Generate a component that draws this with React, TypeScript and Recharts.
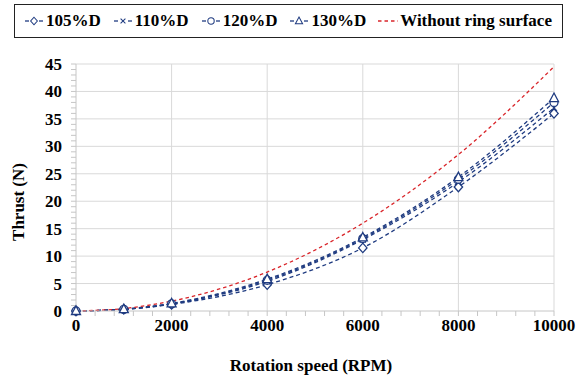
import React from 'react';
import { LineChart, Line, XAxis, YAxis, CartesianGrid } from 'recharts';

const speeds = [0, 1000, 2000, 4000, 6000, 8000, 10000];
const thrust105 = [0, 0.3, 1.2, 4.8, 11.5, 22.6, 36.0];
const thrust110 = [0, 0.3, 1.3, 5.4, 13.0, 23.5, 37.0];
const thrust120 = [0, 0.3, 1.3, 5.6, 13.2, 24.0, 38.0];
const thrust130 = [0, 0.35, 1.4, 5.8, 13.4, 24.4, 38.8];
const thrustNoRing = [0, 0.45, 1.8, 7.1, 16.0, 28.5, 44.5];

const xMajorTicks = [0, 2000, 4000, 6000, 8000, 10000];
const yMajorTicks = [0, 5, 10, 15, 20, 25, 30, 35, 40, 45];
// minor tick marks: every 400 rpm on x, every 1 N on y
const xMinorTicks = Array.from({ length: 26 }, (_, i) => i * 400);
const yMinorTicks = Array.from({ length: 46 }, (_, i) => i);

const data = speeds.map((rpm, i) => ({
  rpm,
  d105: thrust105[i],
  d110: thrust110[i],
  d120: thrust120[i],
  d130: thrust130[i],
  none: thrustNoRing[i],
}));

const NAVY = '#1F3B80';
const RED = '#D9252A';
const AXIS = '#c6c6c6';
const FONT = 'Liberation Serif';

type Shape = 'diamond' | 'cross' | 'circle' | 'triangle';

function Marker({ cx, cy, shape }: { cx: number; cy: number; shape: Shape }) {
  const s = 4.2;
  if (shape === 'diamond')
    return <path d={`M${cx},${cy - s - 0.5} L${cx + s},${cy} L${cx},${cy + s + 0.5} L${cx - s},${cy} Z`} fill="#fff" stroke={NAVY} strokeWidth={1.3} />;
  if (shape === 'cross')
    return <path d={`M${cx - 3},${cy - 3} L${cx + 3},${cy + 3} M${cx - 3},${cy + 3} L${cx + 3},${cy - 3}`} stroke={NAVY} strokeWidth={1.3} />;
  if (shape === 'circle') return <circle cx={cx} cy={cy} r={4} fill="#fff" stroke={NAVY} strokeWidth={1.3} />;
  return <path d={`M${cx},${cy - 5} L${cx + 4.5},${cy + 3.5} L${cx - 4.5},${cy + 3.5} Z`} fill="#fff" stroke={NAVY} strokeWidth={1.3} />;
}

const dotFor = (shape: Shape) => (p: any) => <Marker key={`${shape}-${p.index}`} cx={p.cx} cy={p.cy} shape={shape} />;

function XTick({ x, y, payload }: any) {
  if (payload.value % 2000 !== 0) return <g />;
  return (
    <text x={x} y={y} dy={13} textAnchor="middle" style={{ fontFamily: FONT }} fontWeight="bold" fontSize={17} fill="#000">
      {payload.value}
    </text>
  );
}

function YTick({ x, y, payload }: any) {
  if (payload.value % 5 !== 0) return <g />;
  return (
    <text x={x} y={y} dy={6} textAnchor="end" style={{ fontFamily: FONT }} fontWeight="bold" fontSize={17} fill="#000">
      {payload.value}
    </text>
  );
}

function LegendIcon({ shape, color }: { shape?: Shape; color: string }) {
  return (
    <svg width={20} height={12} style={{ display: 'block' }}>
      {shape ? (
        <>
          <line x1={1} y1={6} x2={5} y2={6} stroke={color} strokeWidth={1.3} />
          <line x1={15} y1={6} x2={19} y2={6} stroke={color} strokeWidth={1.3} />
          <g transform="translate(10,6) scale(0.8) translate(-10,-6)">
            <Marker cx={10} cy={6} shape={shape} />
          </g>
        </>
      ) : (
        <line x1={0} y1={6} x2={20} y2={6} stroke={color} strokeWidth={1.3} strokeDasharray="3.5 3" />
      )}
    </svg>
  );
}

const legendItems: { label: string; shape?: Shape; color: string }[] = [
  { label: '105%D', shape: 'diamond', color: NAVY },
  { label: '110%D', shape: 'cross', color: NAVY },
  { label: '120%D', shape: 'circle', color: NAVY },
  { label: '130%D', shape: 'triangle', color: NAVY },
  { label: 'Without ring surface', color: RED },
];

export default function App() {
  return (
    <div style={{ position: 'absolute', left: 0, top: 0, width: 576, height: 379, background: '#fff', fontFamily: FONT }}>
      <div
        style={{
          position: 'absolute',
          left: 14,
          top: 4,
          width: 549,
          height: 34,
          border: '1.5px solid #222',
          boxSizing: 'border-box',
          display: 'flex',
          alignItems: 'center',
          paddingLeft: 9,
          gap: 12,
          fontFamily: FONT,
          fontWeight: 'bold',
          fontSize: 17,
          color: '#000',
          whiteSpace: 'nowrap',
        }}
      >
        {legendItems.map((it) => (
          <div key={it.label} style={{ display: 'flex', alignItems: 'center', gap: 2 }}>
            <LegendIcon shape={it.shape} color={it.color} />
            <span>{it.label}</span>
          </div>
        ))}
      </div>
      <LineChart width={576} height={379} data={data} margin={{ top: 64, right: 22, left: 0, bottom: 0 }}>
        <CartesianGrid stroke="#d9d9d9" verticalValues={xMajorTicks.slice(1)} horizontalValues={yMajorTicks.slice(1)} />
        <XAxis
          dataKey="rpm"
          type="number"
          domain={[0, 10000]}
          ticks={xMinorTicks}
          interval={0}
          height={68}
          tickSize={5}
          tickMargin={2}
          stroke={AXIS}
          tick={<XTick />}
          label={{
            content: ({ viewBox }: any) => (
              <text x={311} y={viewBox.y + 60} textAnchor="middle" style={{ fontFamily: FONT }} fontWeight="bold" fontSize={17} fill="#000">
                Rotation speed (RPM)
              </text>
            ),
          }}
        />
        <YAxis
          type="number"
          domain={[0, 45]}
          ticks={yMinorTicks}
          interval={0}
          width={76}
          tickSize={5}
          tickMargin={9}
          stroke={AXIS}
          tick={<YTick />}
          label={{
            content: () => (
              <text x={24} y={202} transform="rotate(-90 24 202)" textAnchor="middle" style={{ fontFamily: FONT }} fontWeight="bold" fontSize={17} fill="#000">
                Thrust (N)
              </text>
            ),
          }}
        />
        <Line type="monotone" dataKey="d105" stroke={NAVY} strokeWidth={1.3} strokeDasharray="4 3" dot={dotFor('diamond')} isAnimationActive={false} />
        <Line type="monotone" dataKey="d110" stroke={NAVY} strokeWidth={1.3} strokeDasharray="4 3" dot={dotFor('cross')} isAnimationActive={false} />
        <Line type="monotone" dataKey="d120" stroke={NAVY} strokeWidth={1.3} strokeDasharray="4 3" dot={dotFor('circle')} isAnimationActive={false} />
        <Line type="monotone" dataKey="d130" stroke={NAVY} strokeWidth={1.3} strokeDasharray="4 3" dot={dotFor('triangle')} isAnimationActive={false} />
        <Line type="monotone" dataKey="none" stroke={RED} strokeWidth={1.3} strokeDasharray="3.5 3" dot={false} isAnimationActive={false} />
      </LineChart>
    </div>
  );
}
